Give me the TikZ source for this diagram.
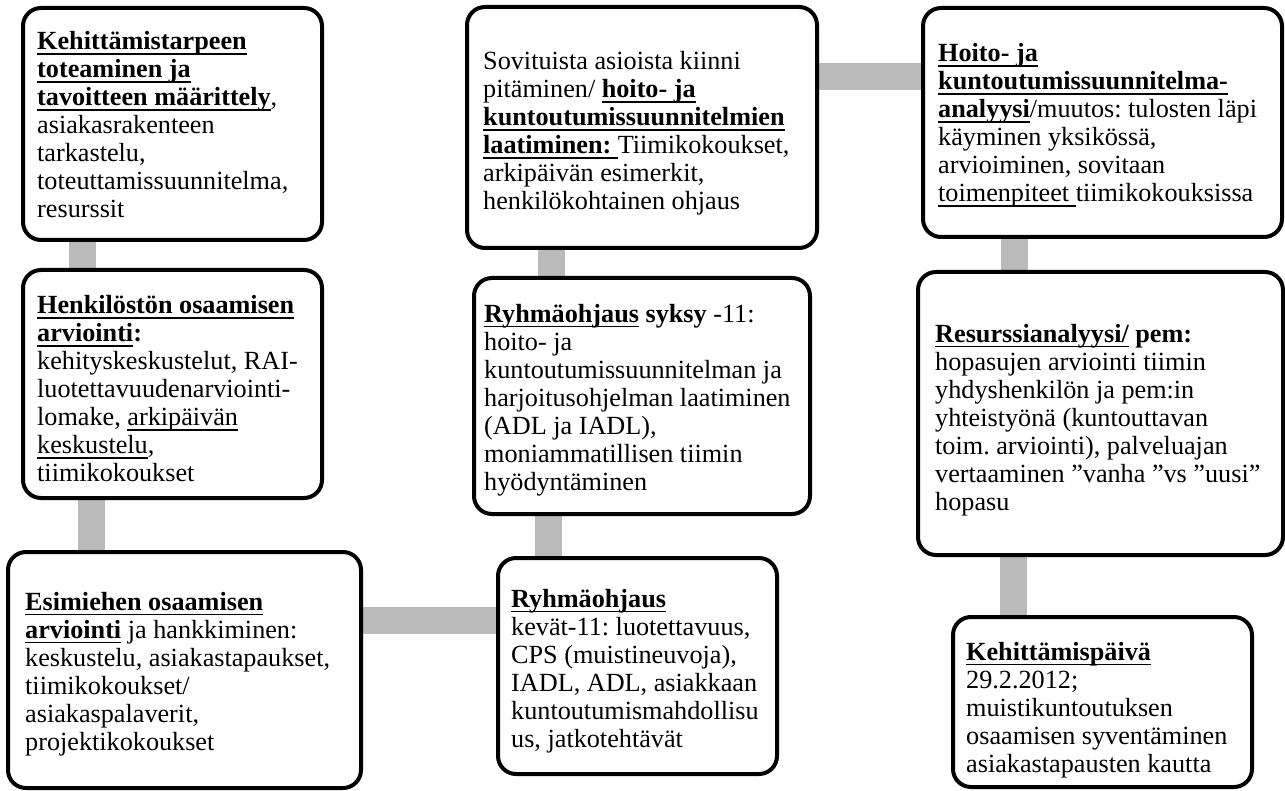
\documentclass[tikz,border=0pt]{standalone}
\usepackage{fontspec}
\setmainfont{Liberation Serif}
\usetikzlibrary{calc,backgrounds}

% underline drawn just below the baseline, through descenders
\newcommand{\ulin}[1]{\leavevmode\setbox0\hbox{#1}\rlap{\rule[-5pt]{\wd0}{1.7pt}}\box0}

\definecolor{linkgray}{RGB}{186,186,186}

\tikzset{
  box/.style={draw=black, line width=4pt, rounded corners=18pt, fill=white, inner sep=0pt},
  txt/.style={anchor=west, align=left, inner sep=0pt, text=black,
              font=\fontsize{26.2}{28}\selectfont\frenchspacing},
  conn/.style={draw=linkgray, line width=27pt, line cap=butt}
}

\begin{document}
\begin{tikzpicture}[x=1pt, y=-1pt]
\useasboundingbox (0,0) rectangle (1285,791);

% ---- boxes ----
\node[box, minimum width=299pt, minimum height=232pt] (b1) at (172.5,124) {};
\node[box, minimum width=299pt, minimum height=228pt] (b2) at (172.5,384) {};
\node[box, minimum width=353pt, minimum height=236pt] (b3) at (184.5,670) {};
\node[box, minimum width=350pt, minimum height=241pt] (b6) at (642,127.5) {};
\node[box, minimum width=336pt, minimum height=236pt] (b4) at (642,396) {};
\node[box, minimum width=279pt, minimum height=216pt] (b5) at (637.5,666) {};
\node[box, minimum width=359pt, minimum height=229pt] (b7) at (1102.5,122.5) {};
\node[box, minimum width=365pt, minimum height=283pt] (b8) at (1100.5,413.5) {};
\node[box, minimum width=299pt, minimum height=170pt] (b9) at (1102.5,702) {};

% ---- connecting bars behind the boxes ----
\begin{scope}[on background layer]
  \draw[conn] ($(b1.south west)+(61,0)$) -- ($(b2.north west)+(61,0)$);
  \draw[conn] ($(b2.south west)+(70.5,0)$) -- ($(b3.north west)+(85.5,0)$);
  \draw[conn] ($(b3.north east)+(0,70.5)$) -- ($(b5.north west)+(0,64.5)$);
  \draw[conn] ($(b4.south west)+(76,0)$) -- ($(b5.north west)+(52,0)$);
  \draw[conn] ($(b6.south west)+(86,0)$) -- ($(b4.north west)+(79,0)$);
  \draw[conn] ($(b6.north east)+(0,72)$) -- ($(b7.north west)+(0,71)$);
  \draw[conn] ($(b7.south west)+(93,0)$) -- ($(b8.north west)+(98,0)$);
  \draw[conn] ($(b8.south west)+(97,0)$) -- ($(b9.north west)+(62,0)$);
\end{scope}

% ---- texts ----
\node[txt] (t1) at ($(b1.west)+(16,1)$) {%
  \textbf{\ulin{Kehittämistarpeen}}\\
  \textbf{\ulin{toteaminen ja}}\\
  \textbf{\ulin{tavoitteen määrittely}},\\
  asiakasrakenteen\\
  tarkastelu,\\
  toteuttamissuunnitelma,\\
  resurssit};

\node[txt] (t2) at ($(b2.west)+(16,5)$) {%
  \textbf{\ulin{Henkilöstön osaamisen}}\\
  \textbf{\ulin{arviointi}:}\\
  kehityskeskustelut, RAI-\\
  luotettavuudenarviointi-\\
  lomake, \ulin{arkipäivän}\\
  \ulin{keskustelu},\\
  tiimikokoukset};

\node[txt] (t3) at ($(b3.west)+(19,4)$) {%
  \textbf{\ulin{Esimiehen osaamisen}}\\
  \textbf{\ulin{arviointi}} ja hankkiminen:\\
  keskustelu, asiakastapaukset,\\
  tiimikokoukset/\\
  asiakaspalaverit,\\
  projektikokoukset};

\node[txt] (t6) at ($(b6.west)+(18,6)$) {%
  Sovituista asioista kiinni\\
  pitäminen/ \textbf{\ulin{hoito- ja}}\\
  \textbf{\ulin{kuntoutumissuunnitelmien}}\\
  \textbf{\ulin{laatiminen: }}Tiimikokoukset,\\
  arkipäivän esimerkit,\\
  henkilökohtainen ohjaus};

\node[txt] (t4) at ($(b4.west)+(12,4)$) {%
  \textbf{\ulin{Ryhmäohjaus}} \textbf{syksy} -11:\\
  hoito- ja\\
  kuntoutumissuunnitelman ja\\
  harjoitusohjelman laatiminen\\
  (ADL ja IADL),\\
  moniammatillisen tiimin\\
  hyödyntäminen};

\node[txt] (t5) at ($(b5.west)+(15,5)$) {%
  \textbf{\ulin{Ryhmäohjaus}}\\
  kevät-11: luotettavuus,\\
  CPS (muistineuvoja),\\
  IADL, ADL, asiakkaan\\
  kuntoutumismahdollisu\\
  us, jatkotehtävät};

\node[txt] (t7) at ($(b7.west)+(17,3)$) {%
  \textbf{\ulin{Hoito- ja}}\\
  \textbf{\ulin{kuntoutumissuunnitelma-}}\\
  \textbf{\ulin{analyysi}}/muutos: tulosten läpi\\
  käyminen yksikössä,\\
  arvioiminen, sovitaan\\
  \ulin{toimenpiteet }tiimikokouksissa};

\node[txt] (t8) at ($(b8.west)+(19,6.5)$) {%
  \textbf{\ulin{Resurssianalyysi/}} \textbf{pem:}\\
  hopasujen arviointi tiimin\\
  yhdyshenkilön ja pem:in\\
  yhteistyönä (kuntouttavan\\
  toim. arviointi), palveluajan\\
  vertaaminen ”vanha ”vs ”uusi”\\
  hopasu};

\node[txt] (t9) at ($(b9.west)+(15,8)$) {%
  \textbf{\ulin{Kehittämispäivä}}\\
  29.2.2012;\\
  muistikuntoutuksen\\
  osaamisen syventäminen\\
  asiakastapausten kautta};

\end{tikzpicture}
\end{document}
